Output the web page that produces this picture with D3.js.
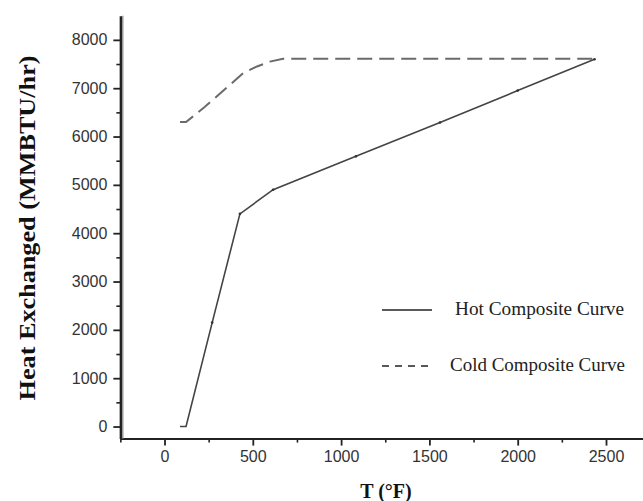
<!DOCTYPE html>
<html>
<head>
<meta charset="utf-8">
<script src="https://cdn.jsdelivr.net/npm/d3@7"></script>
<style>
  body { margin: 0; background: #fff; }
  svg { display: block; }
  .tick text { font-family: "Liberation Sans", Arial, sans-serif; font-size: 16px; fill: #333; }
</style>
</head>
<body>
<svg id="chart" width="643" height="501"></svg>
<script>
// values
var hotT = [88, 122, 270, 427, 615, 1084, 1560, 2000, 2435];
var hotQ = [0, 0, 2150, 4400, 4900, 5590, 6290, 6950, 7600];
var coldT = [88, 122, 229, 371, 445, 524, 597, 671, 2435];
var coldQ = [6300, 6300, 6615, 7070, 7310, 7450, 7550, 7610, 7610];
var xTicks = [0, 500, 1000, 1500, 2000, 2500];
var yTicks = [0, 1000, 2000, 3000, 4000, 5000, 6000, 7000, 8000];
var legendNames = ["Hot Composite Curve", "Cold Composite Curve"];

var svg = d3.select("#chart");

var x = d3.scaleLinear().domain([-250, 2750]).range([120.35, 650.15]);
var y = d3.scaleLinear().domain([-250, 8500]).range([438.6, 15.7]);

var minorX = d3.range(-250, 2751, 250).filter(function(d){ return d % 500 !== 0; });
var minorY = d3.range(500, 8500, 1000);

// minor ticks
svg.append("g")
    .attr("transform", "translate(0," + y(-250) + ")")
    .call(d3.axisBottom(x).tickValues(minorX).tickSize(4).tickFormat(""))
    .call(function(g){ g.select(".domain").remove(); })
    .selectAll("line").attr("stroke", "#222").attr("stroke-width", 1.6);

svg.append("g")
    .attr("transform", "translate(" + x(-250) + ",0)")
    .call(d3.axisLeft(y).tickValues(minorY).tickSize(4).tickFormat(""))
    .call(function(g){ g.select(".domain").remove(); })
    .selectAll("line").attr("stroke", "#222").attr("stroke-width", 1.6);

// major ticks
var xAxis = svg.append("g")
    .attr("transform", "translate(0," + y(-250) + ")")
    .call(d3.axisBottom(x).tickValues(xTicks).tickFormat(d3.format("d"))
        .tickSize(7).tickPadding(5).tickSizeOuter(0));
xAxis.select(".domain").attr("stroke", "#222").attr("stroke-width", 2);
xAxis.selectAll(".tick line").attr("stroke", "#222").attr("stroke-width", 1.8);

var yAxis = svg.append("g")
    .attr("transform", "translate(" + x(-250) + ",0)")
    .call(d3.axisLeft(y).tickValues(yTicks).tickFormat(d3.format("d"))
        .tickSize(7).tickPadding(6).tickSizeOuter(0));
yAxis.select(".domain").attr("stroke", "#222").attr("stroke-width", 2.4);
yAxis.selectAll(".tick line").attr("stroke", "#222").attr("stroke-width", 1.8);

// gray shadow on the left axis
svg.append("line")
    .attr("x1", x(-250) + 2.4).attr("x2", x(-250) + 2.4)
    .attr("y1", y(8500)).attr("y2", y(-250))
    .attr("stroke", "#999").attr("stroke-width", 1.5);

var line = d3.line()
    .x(function(d){ return x(d[0]); })
    .y(function(d){ return y(d[1]); });

var hot = hotT.map(function(t, i){ return [t, hotQ[i]]; });
var cold = coldT.map(function(t, i){ return [t, coldQ[i]]; });

svg.append("path")
    .datum(cold)
    .attr("fill", "none")
    .attr("stroke", "#6a6a6a")
    .attr("stroke-width", 2)
    .attr("stroke-dasharray", "15,7")
    .attr("d", line);

svg.append("path")
    .datum(hot)
    .attr("fill", "none")
    .attr("stroke", "#444")
    .attr("stroke-width", 1.6)
    .attr("d", line);

// small markers on the hot curve
svg.selectAll(".pt")
    .data(hot.slice(2))
    .enter().append("circle")
    .attr("cx", function(d){ return x(d[0]); })
    .attr("cy", function(d){ return y(d[1]); })
    .attr("r", 1.3)
    .attr("fill", "#333");

// axis titles
svg.append("text")
    .attr("transform", "translate(35,228) rotate(-90)")
    .attr("text-anchor", "middle")
    .attr("font-family", "Liberation Serif, Times New Roman, serif")
    .attr("font-weight", "bold")
    .attr("font-size", 24)
    .attr("textLength", 345)
    .attr("lengthAdjust", "spacingAndGlyphs")
    .attr("fill", "#111")
    .text("Heat Exchanged (MMBTU/hr)");

svg.append("text")
    .attr("x", 386).attr("y", 498)
    .attr("text-anchor", "middle")
    .attr("font-family", "Liberation Serif, Times New Roman, serif")
    .attr("font-weight", "bold")
    .attr("font-size", 20)
    .attr("fill", "#111")
    .text("T (°F)");

// legend
var legend = svg.append("g");
var legY = [310, 366];
legendNames.forEach(function(name, i){
    legend.append("line")
        .attr("x1", 382).attr("x2", 432)
        .attr("y1", legY[i]).attr("y2", legY[i])
        .attr("stroke", "#222")
        .attr("stroke-width", 1.4)
        .attr("stroke-dasharray", i === 1 ? "7,6" : null);
    legend.append("text")
        .attr("x", i === 0 ? 455 : 450).attr("y", legY[i] + 5)
        .attr("font-family", "Liberation Serif, Times New Roman, serif")
        .attr("font-size", 18)
        .attr("textLength", i === 0 ? 169 : 175)
        .attr("lengthAdjust", "spacingAndGlyphs")
        .attr("fill", "#222")
        .text(name);
});
</script>
</body>
</html>
